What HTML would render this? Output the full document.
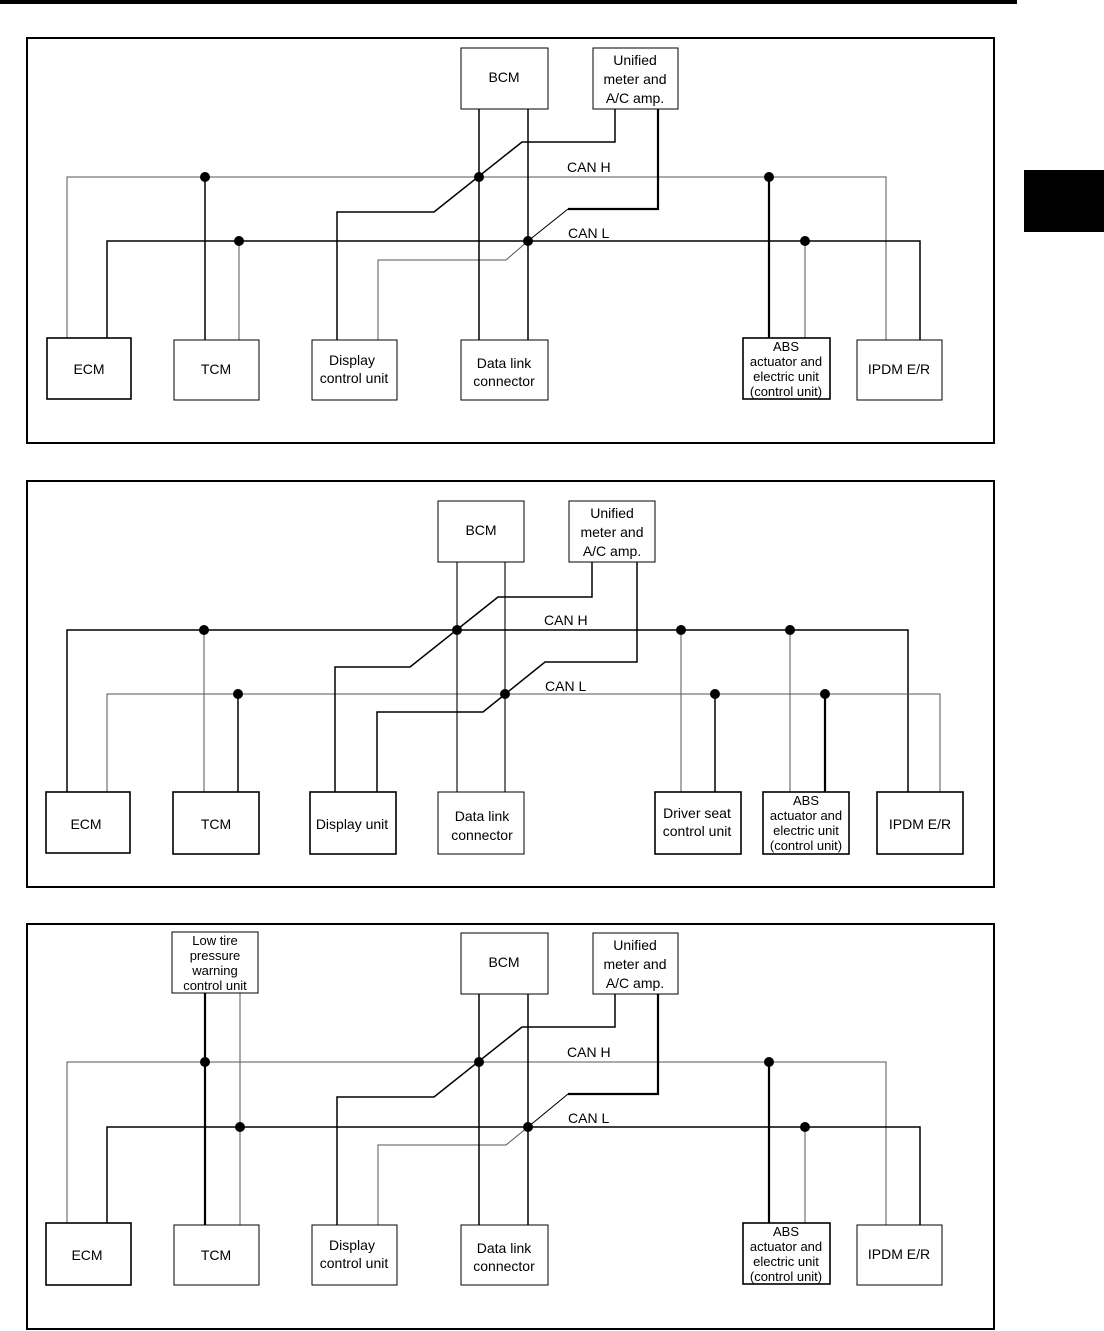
<!DOCTYPE html>
<html><head><meta charset="utf-8"><style>
html,body{margin:0;padding:0;background:#fff}
svg{display:block}
text{font-family:"Liberation Sans",Arial,sans-serif;font-size:14px;fill:#000}
.g{stroke:#555;stroke-width:1;fill:none}
.k{stroke:#000;stroke-width:1.1;fill:none}
.b{stroke:#000;stroke-width:1.5;fill:none}
.t{stroke:#000;stroke-width:2.2;fill:none}
.box{fill:#fff;stroke:#000;stroke-width:1}
.boxt{fill:#fff;stroke:#000;stroke-width:1.6}
</style></head><body>
<svg width="1104" height="1331" viewBox="0 0 1104 1331" xmlns="http://www.w3.org/2000/svg">
<rect x="0" y="0" width="1017" height="4" fill="#000"/>
<rect x="1024" y="170" width="80" height="62" fill="#000"/>

<!-- Panel 1 -->
<g>
<rect x="27" y="38" width="967" height="405" fill="none" stroke="#000" stroke-width="2"/>
<polyline class="g" points="67,338 67,177 886,177 886,340"/>
<polyline class="b" points="107,338 107,241 920,241 920,340"/>
<line class="b" x1="205" y1="177" x2="205" y2="340"/>
<line class="g" x1="239" y1="241" x2="239" y2="340"/>
<polyline class="b" points="337,340 337,212 434,212 522,142 615,142 615,109"/>
<polyline class="g" points="378,340 378,260 506,260 528,241"/>
<polyline class="k" points="528,241 568,209"/>
<polyline class="t" points="568,209 658,209 658,109"/>
<line class="b" x1="479" y1="109" x2="479" y2="340"/>
<line class="b" x1="528" y1="109" x2="528" y2="340"/>
<line class="t" x1="769" y1="177" x2="769" y2="338"/>
<line class="g" x1="805" y1="241" x2="805" y2="338"/>
<g fill="#000"><circle cx="205" cy="177" r="5"/><circle cx="479" cy="177" r="5"/><circle cx="769" cy="177" r="5"/><circle cx="239" cy="241" r="5"/><circle cx="528" cy="241" r="5"/><circle cx="805" cy="241" r="5"/></g>
<text x="567" y="172">CAN H</text><text x="568" y="238">CAN L</text>
<rect class="box" x="461" y="48" width="87" height="61"/><text x="504" y="82" text-anchor="middle">BCM</text>
<rect class="box" x="593" y="48" width="85" height="61"/><text x="635" y="65" text-anchor="middle">Unified</text><text x="635" y="84" text-anchor="middle">meter and</text><text x="635" y="103" text-anchor="middle">A/C amp.</text>
<rect class="boxt" x="47" y="338" width="84" height="61"/><text x="89" y="374" text-anchor="middle">ECM</text>
<rect class="box" x="174" y="340" width="85" height="60"/><text x="216" y="374" text-anchor="middle">TCM</text>
<rect class="box" x="312" y="340" width="85" height="60"/><text x="352" y="365" text-anchor="middle">Display</text><text x="354" y="383" text-anchor="middle">control unit</text>
<rect class="box" x="461" y="340" width="87" height="60"/><text x="504" y="368" text-anchor="middle">Data link</text><text x="504" y="386" text-anchor="middle">connector</text>
<rect class="boxt" x="743" y="338" width="87" height="61"/><text x="786" y="351" text-anchor="middle" style="font-size:13px">ABS</text><text x="786" y="366" text-anchor="middle" style="font-size:13px">actuator and</text><text x="786" y="381" text-anchor="middle" style="font-size:13px">electric unit</text><text x="786" y="396" text-anchor="middle" style="font-size:13px">(control unit)</text>
<rect class="box" x="857" y="340" width="85" height="60"/><text x="899" y="374" text-anchor="middle">IPDM E/R</text>
</g>

<!-- Panel 2 -->
<g>
<rect x="27" y="481" width="967" height="406" fill="none" stroke="#000" stroke-width="2"/>
<polyline class="b" points="67,792 67,630 908,630 908,792"/>
<polyline class="g" points="107,792 107,694 940,694 940,792"/>
<line class="g" x1="204" y1="630" x2="204" y2="792"/>
<line class="b" x1="238" y1="694" x2="238" y2="792"/>
<polyline class="b" points="335,792 335,667 410,667 498,597 592,597 592,562"/>
<polyline class="b" points="377,792 377,712 483,712 545,662 637,662 637,562"/>
<line class="k" x1="457" y1="562" x2="457" y2="792"/>
<line class="k" x1="505" y1="562" x2="505" y2="792"/>
<line class="g" x1="681" y1="630" x2="681" y2="792"/>
<line class="b" x1="715" y1="694" x2="715" y2="792"/>
<line class="g" x1="790" y1="630" x2="790" y2="792"/>
<line class="t" x1="825" y1="694" x2="825" y2="792"/>
<g fill="#000"><circle cx="204" cy="630" r="5"/><circle cx="457" cy="630" r="5"/><circle cx="681" cy="630" r="5"/><circle cx="790" cy="630" r="5"/><circle cx="238" cy="694" r="5"/><circle cx="505" cy="694" r="5"/><circle cx="715" cy="694" r="5"/><circle cx="825" cy="694" r="5"/></g>
<text x="544" y="625">CAN H</text><text x="545" y="691">CAN L</text>
<rect class="box" x="438" y="501" width="86" height="61"/><text x="481" y="535" text-anchor="middle">BCM</text>
<rect class="box" x="569" y="501" width="86" height="61"/><text x="612" y="518" text-anchor="middle">Unified</text><text x="612" y="537" text-anchor="middle">meter and</text><text x="612" y="556" text-anchor="middle">A/C amp.</text>
<rect class="boxt" x="46" y="792" width="84" height="61"/><text x="86" y="829" text-anchor="middle">ECM</text>
<rect class="boxt" x="173" y="792" width="86" height="62"/><text x="216" y="829" text-anchor="middle">TCM</text>
<rect class="boxt" x="310" y="792" width="86" height="62"/><text x="352" y="829" text-anchor="middle">Display unit</text>
<rect class="box" x="438" y="792" width="86" height="62"/><text x="482" y="821" text-anchor="middle">Data link</text><text x="482" y="840" text-anchor="middle">connector</text>
<rect class="boxt" x="655" y="792" width="86" height="62"/><text x="697" y="818" text-anchor="middle">Driver seat</text><text x="697" y="836" text-anchor="middle">control unit</text>
<rect class="boxt" x="763" y="792" width="86" height="62"/><text x="806" y="805" text-anchor="middle" style="font-size:13px">ABS</text><text x="806" y="820" text-anchor="middle" style="font-size:13px">actuator and</text><text x="806" y="835" text-anchor="middle" style="font-size:13px">electric unit</text><text x="806" y="850" text-anchor="middle" style="font-size:13px">(control unit)</text>
<rect class="boxt" x="877" y="792" width="86" height="62"/><text x="920" y="829" text-anchor="middle">IPDM E/R</text>
</g>

<!-- Panel 3 -->
<g>
<rect x="27" y="924" width="967" height="405" fill="none" stroke="#000" stroke-width="2"/>
<polyline class="g" points="67,1223 67,1062 886,1062 886,1225"/>
<polyline class="b" points="107,1223 107,1127 920,1127 920,1225"/>
<line class="t" x1="205" y1="993" x2="205" y2="1225"/>
<line class="g" x1="240" y1="993" x2="240" y2="1225"/>
<polyline class="b" points="337,1225 337,1097 434,1097 522,1027 615,1027 615,994"/>
<polyline class="g" points="378,1225 378,1145 506,1145 528,1127"/>
<polyline class="k" points="528,1127 568,1094"/>
<polyline class="t" points="568,1094 658,1094 658,994"/>
<line class="b" x1="479" y1="994" x2="479" y2="1225"/>
<line class="b" x1="528" y1="994" x2="528" y2="1225"/>
<line class="t" x1="769" y1="1062" x2="769" y2="1223"/>
<line class="g" x1="805" y1="1127" x2="805" y2="1223"/>
<g fill="#000"><circle cx="205" cy="1062" r="5"/><circle cx="479" cy="1062" r="5"/><circle cx="769" cy="1062" r="5"/><circle cx="240" cy="1127" r="5"/><circle cx="528" cy="1127" r="5"/><circle cx="805" cy="1127" r="5"/></g>
<text x="567" y="1057">CAN H</text><text x="568" y="1123">CAN L</text>
<rect class="box" x="172" y="932" width="86" height="61"/><text x="215" y="945" text-anchor="middle" style="font-size:13px">Low tire</text><text x="215" y="960" text-anchor="middle" style="font-size:13px">pressure</text><text x="215" y="975" text-anchor="middle" style="font-size:13px">warning</text><text x="215" y="990" text-anchor="middle" style="font-size:13px">control unit</text>
<rect class="box" x="461" y="933" width="87" height="61"/><text x="504" y="967" text-anchor="middle">BCM</text>
<rect class="box" x="593" y="933" width="85" height="61"/><text x="635" y="950" text-anchor="middle">Unified</text><text x="635" y="969" text-anchor="middle">meter and</text><text x="635" y="988" text-anchor="middle">A/C amp.</text>
<rect class="boxt" x="46" y="1223" width="85" height="62"/><text x="87" y="1260" text-anchor="middle">ECM</text>
<rect class="box" x="174" y="1225" width="85" height="60"/><text x="216" y="1260" text-anchor="middle">TCM</text>
<rect class="box" x="312" y="1225" width="85" height="60"/><text x="352" y="1250" text-anchor="middle">Display</text><text x="354" y="1268" text-anchor="middle">control unit</text>
<rect class="box" x="461" y="1225" width="87" height="60"/><text x="504" y="1253" text-anchor="middle">Data link</text><text x="504" y="1271" text-anchor="middle">connector</text>
<rect class="boxt" x="743" y="1223" width="87" height="61"/><text x="786" y="1236" text-anchor="middle" style="font-size:13px">ABS</text><text x="786" y="1251" text-anchor="middle" style="font-size:13px">actuator and</text><text x="786" y="1266" text-anchor="middle" style="font-size:13px">electric unit</text><text x="786" y="1281" text-anchor="middle" style="font-size:13px">(control unit)</text>
<rect class="box" x="857" y="1225" width="85" height="60"/><text x="899" y="1259" text-anchor="middle">IPDM E/R</text>
</g>
</svg>
</body></html>
